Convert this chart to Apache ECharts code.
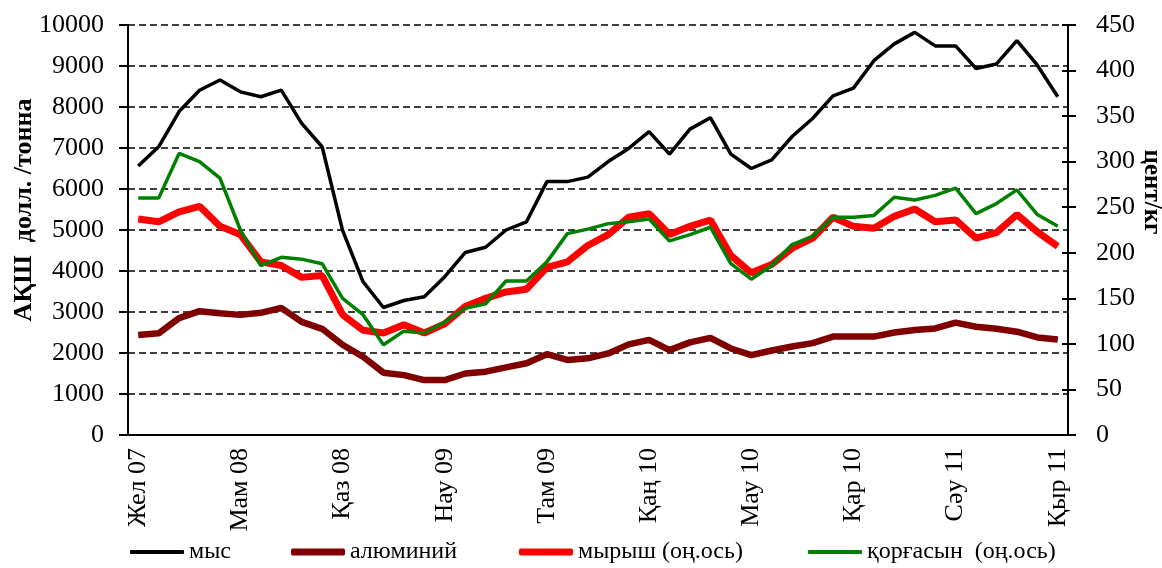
<!DOCTYPE html>
<html>
<head>
<meta charset="utf-8">
<script src="https://cdn.jsdelivr.net/npm/echarts@6/dist/echarts.min.js"></script>
<style>
  html, body { margin: 0; padding: 0; background: #fff; }
  #container { width: 1162px; height: 568px; }
</style>
</head>
<body>
<div id="container"></div>
<script>
// ай атаулары (Жел 07 ... Қыр 11)
var months = ['Қаң', 'Ақп', 'Нау', 'Сәу', 'Мам', 'Мау', 'Шіл', 'Там', 'Қыр', 'Қаз', 'Қар', 'Жел'];
var categories = [];
for (var k = 0; k < 46; k++) {
  var m = (11 + k) % 12;
  var y = 7 + Math.floor((11 + k) / 12);
  categories.push(months[m] + ' ' + (y < 10 ? '0' + y : '' + y));
}

// АҚШ долл./тонна
var copper = [6560, 7030, 7890, 8410, 8660, 8370, 8250, 8410, 7600, 7030,
  4990, 3740, 3110, 3280, 3370, 3860, 4450, 4580, 5000, 5200,
  6180, 6180, 6290, 6670, 6990, 7400, 6850, 7460, 7740, 6850,
  6500, 6710, 7280, 7720, 8270, 8460, 9130, 9540, 9820, 9490,
  9490, 8940, 9050, 9620, 9020, 8250];
var aluminium = [2440, 2480, 2850, 3020, 2970, 2930, 2980, 3100, 2760, 2590,
  2200, 1910, 1520, 1460, 1340, 1340, 1500, 1545, 1650, 1750,
  1970, 1830, 1870, 1990, 2210, 2320, 2070, 2260, 2370, 2110,
  1950, 2060, 2160, 2240, 2400, 2400, 2400, 2500, 2560, 2600,
  2740, 2640, 2590, 2520, 2380, 2330];
// цент/кг (оң ось)
var zinc = [237, 234, 245, 251, 229, 220, 190, 186, 173, 175,
  132, 115, 112, 121, 112, 122, 141, 150, 157, 160,
  184, 190, 208, 220, 239, 243, 220, 229, 236, 197,
  178, 187, 205, 216, 239, 229, 227, 240, 248, 234,
  236, 216, 222, 242, 223, 207];
var lead = [260, 260, 309, 300, 282, 225, 186, 195, 193, 188,
  150, 132, 99, 114, 112, 124, 139, 144, 169, 169,
  190, 221, 226, 232, 234, 237, 213, 220, 228, 188,
  171, 186, 209, 218, 239, 239, 241, 261, 258, 263,
  271, 243, 254, 269, 242, 229];

var FONT = 'Liberation Serif';

var dom = document.getElementById('container');
var myChart = echarts.init(dom, null, { renderer: 'canvas' });

function legendItem(name, left, h) {
  return {
    data: [name],
    left: left,
    top: 540,
    icon: 'roundRect',
    itemWidth: 54,
    itemHeight: h,
    itemGap: 0,
    padding: 0,
    selectedMode: false,
    textStyle: { fontFamily: FONT, fontSize: 24, color: '#000', padding: [10, 0, 0, 0] }
  };
}

function plain(v) { return String(v); }

var option = {
  animation: false,
  backgroundColor: '#fff',
  textStyle: { fontFamily: FONT },
  grid: { left: 128, right: 94, top: 25, bottom: 133 },
  legend: [
    legendItem('мыс', 130, 4),
    legendItem('алюминий', 291, 7),
    legendItem('мырыш (оң.ось)', 519, 7),
    legendItem('қорғасын  (оң.ось)', 808, 4)
  ],
  xAxis: {
    type: 'category',
    data: categories,
    boundaryGap: true,
    axisLine: { lineStyle: { color: '#000', width: 2 } },
    axisTick: { interval: 4, length: 7, lineStyle: { color: '#000', width: 2 } },
    axisLabel: {
      interval: 4, rotate: 90, margin: 13,
      fontFamily: FONT, fontSize: 26, color: '#000'
    },
    splitLine: { show: false }
  },
  yAxis: [
    {
      type: 'value', min: 0, max: 10000, interval: 1000, position: 'left',
      axisLine: { show: true, lineStyle: { color: '#000', width: 2 } },
      axisTick: { show: true, length: 9, lineStyle: { color: '#000', width: 2 } },
      axisLabel: { margin: 24, fontFamily: FONT, fontSize: 26, color: '#000', formatter: plain },
      splitLine: { show: true, lineStyle: { color: '#000', width: 1.5, type: [7, 4] } }
    },
    {
      type: 'value', min: 0, max: 450, interval: 50, position: 'right',
      axisLine: { show: true, lineStyle: { color: '#000', width: 2 } },
      axisTick: { show: true, length: 8, lineStyle: { color: '#000', width: 2 } },
      axisLabel: { margin: 28, fontFamily: FONT, fontSize: 26, color: '#000', formatter: plain },
      splitLine: { show: false }
    },
    {
      // оң осьтің ішкі белгілері
      type: 'value', min: 0, max: 450, interval: 50, position: 'right',
      axisLine: { show: false },
      axisTick: { show: true, inside: true, length: 6, lineStyle: { color: '#000', width: 2 } },
      axisLabel: { show: false },
      splitLine: { show: false }
    }
  ],
  graphic: [
    {
      type: 'text', x: 24, y: 210, rotation: Math.PI / 2,
      style: {
        text: 'АҚШ  долл. /тонна', fontFamily: FONT, fontSize: 26, fontWeight: 'bold',
        fill: '#000', align: 'center', verticalAlign: 'middle'
      }
    },
    {
      type: 'text', x: 1151, y: 192, rotation: -Math.PI / 2,
      style: {
        text: 'цент/кг', fontFamily: FONT, fontSize: 25, fontWeight: 'bold',
        fill: '#000', align: 'center', verticalAlign: 'middle'
      }
    }
  ],
  series: [
    {
      name: 'мыс', type: 'line', data: copper, yAxisIndex: 0,
      symbol: 'none', color: '#000', lineStyle: { width: 3.5 }, z: 4
    },
    {
      name: 'алюминий', type: 'line', data: aluminium, yAxisIndex: 0,
      symbol: 'none', color: '#800000', lineStyle: { width: 6.5 }, z: 2
    },
    {
      name: 'мырыш (оң.ось)', type: 'line', data: zinc, yAxisIndex: 1,
      symbol: 'none', color: '#ff0000', lineStyle: { width: 7 }, z: 2
    },
    {
      name: 'қорғасын  (оң.ось)', type: 'line', data: lead, yAxisIndex: 1,
      symbol: 'none', color: '#008000', lineStyle: { width: 3.5 }, z: 3
    }
  ]
};

if (option && typeof option === 'object') {
  myChart.setOption(option);
}

window.addEventListener('resize', myChart.resize);
</script>
</body>
</html>
